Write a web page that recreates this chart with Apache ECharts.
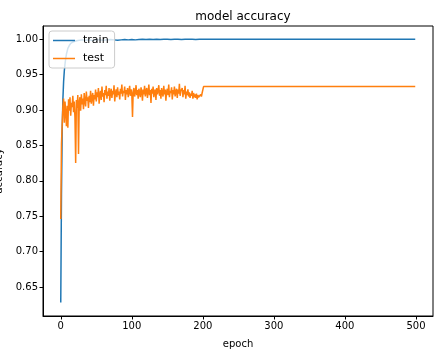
<!DOCTYPE html>
<html>
<head>
    <meta charset="utf-8">
    <title>model accuracy</title>
    <script src="https://cdn.jsdelivr.net/npm/echarts@6/dist/echarts.min.js"></script>
    <style>
        html, body { margin: 0; padding: 0; background: #fff; }
        #chart1 { width: 438px; height: 352px; }
    </style>
</head>
<body>
<div id="chart1"></div>
<script>
    // 横轴刻度与纵轴刻度
    var xTicks = [0, 100, 200, 300, 400, 500];
    var yTicks = [0.65, 0.70, 0.75, 0.80, 0.85, 0.90, 0.95, 1.00];

    // train 曲线：前期每轮，之后每 5 轮，200 轮后保持不变
    var trainEpochs = [0, 1, 2, 3, 4, 5, 6, 7, 8, 9, 10, 11, 12, 13, 14, 15, 17, 20, 24,
        25, 30, 35, 40, 45, 50, 55, 60, 65, 70, 75, 80, 85, 90, 95, 100, 105, 110, 115, 120,
        125, 130, 135, 140, 145, 150, 155, 160, 165, 170, 175, 180, 185, 190, 195, 200, 499];
    var trainAcc = [0.628, 0.780, 0.870, 0.915, 0.940, 0.955, 0.965, 0.973, 0.979, 0.983, 0.987, 0.989, 0.991, 0.993, 0.994, 0.995, 0.996, 0.997, 0.998,
        0.998, 0.999, 0.9985, 0.999, 0.998, 0.9995, 0.999, 0.9985, 0.999, 0.9995, 0.999, 0.9985, 0.999, 0.9995, 0.999, 0.9995, 0.999, 0.9995, 1.000, 0.9995,
        1.000, 0.9995, 1.000, 0.9995, 1.000, 1.000, 0.9995, 1.000, 1.000, 0.9995, 1.000, 1.000, 1.000, 0.9995, 1.000, 1.000, 1.000];

    // test 曲线：0-201 轮每轮一个值，之后保持 0.933 到 499 轮
    var testAcc = [
        0.746, 0.852, 0.880, 0.905, 0.916, 0.882, 0.912, 0.896, 0.877, 0.906,
        0.875, 0.915, 0.899, 0.918, 0.892, 0.910, 0.904, 0.920, 0.897, 0.912,
        0.889, 0.825, 0.914, 0.903, 0.921, 0.838, 0.911, 0.918, 0.899, 0.922,
        0.908, 0.916, 0.901, 0.924, 0.912, 0.905, 0.926, 0.913, 0.918, 0.903,
        0.920, 0.911, 0.927, 0.909, 0.917, 0.924, 0.906, 0.921, 0.915, 0.929,
        0.912, 0.925, 0.918, 0.931, 0.909, 0.922, 0.927, 0.914, 0.933, 0.919,
        0.924, 0.911, 0.928, 0.921, 0.934, 0.916, 0.926, 0.920, 0.931, 0.913,
        0.925, 0.930, 0.917, 0.927, 0.922, 0.935, 0.912, 0.924, 0.929, 0.918,
        0.932, 0.921, 0.926, 0.915, 0.930, 0.923, 0.936, 0.919, 0.927, 0.924,
        0.933, 0.914, 0.928, 0.922, 0.931, 0.918, 0.926, 0.934, 0.920, 0.929,
        0.923, 0.890, 0.927, 0.931, 0.919, 0.925, 0.935, 0.921, 0.928, 0.916,
        0.930, 0.924, 0.918, 0.932, 0.926, 0.913, 0.929, 0.922, 0.934, 0.919,
        0.927, 0.931, 0.917, 0.925, 0.936, 0.921, 0.928, 0.910, 0.930, 0.923,
        0.933, 0.918, 0.926, 0.929, 0.914, 0.931, 0.922, 0.927, 0.935, 0.920,
        0.928, 0.916, 0.931, 0.924, 0.919, 0.934, 0.922, 0.929, 0.913, 0.926,
        0.930, 0.921, 0.936, 0.918, 0.927, 0.924, 0.932, 0.915, 0.928, 0.922,
        0.933, 0.919, 0.926, 0.930, 0.917, 0.929, 0.923, 0.937, 0.920, 0.927,
        0.925, 0.931, 0.918, 0.928, 0.922, 0.934, 0.916, 0.926, 0.921, 0.929,
        0.919, 0.925, 0.917, 0.923, 0.920, 0.927, 0.916, 0.924, 0.918, 0.922,
        0.917, 0.923, 0.915, 0.921, 0.918, 0.920, 0.916, 0.922, 0.919, 0.924,
        0.925, 0.933
    ];
    var testFinal = 0.933;
    var lastEpoch = 499;

    var trainData = trainEpochs.map(function (e, i) { return [e, trainAcc[i]]; });
    var testData = testAcc.map(function (v, i) { return [i, v]; });
    testData.push([lastEpoch, testFinal]);

    var font = 'DejaVu Sans';
    var myChart1 = echarts.init(document.getElementById('chart1'));
    myChart1.setOption({
        animation: false,
        textStyle: { fontFamily: font },
        title: {
            text: 'model accuracy',
            left: 238,
            top: 6,
            textAlign: 'center',
            textStyle: { fontFamily: font, fontSize: 12, fontWeight: 'normal', color: '#000' }
        },
        legend: {
            data: ['train', 'test'],
            orient: 'vertical',
            left: 49,
            top: 31,
            z: 10,
            icon: 'rect',
            itemWidth: 22,
            itemHeight: 1.5,
            itemGap: 7,
            padding: [4, 6, 4, 4],
            backgroundColor: 'rgba(255,255,255,0.8)',
            borderColor: '#cccccc',
            borderWidth: 1,
            borderRadius: 3,
            textStyle: { fontFamily: font, fontSize: 11, color: '#000', padding: [0, 0, 0, 3] }
        },
        grid: {
            left: 43, right: 5, top: 26, bottom: 36,
            containLabel: false,
            outerBoundsMode: 'none',
            show: true, borderColor: '#000', borderWidth: 1
        },
        xAxis: {
            type: 'value',
            min: -25,
            max: 524,
            name: 'epoch',
            nameLocation: 'middle',
            nameGap: 23,
            nameTextStyle: { fontFamily: font, fontSize: 10, color: '#000' },
            axisLine: { show: true, onZero: false, lineStyle: { color: '#000', width: 1 } },
            axisTick: { show: true, length: 3.5, customValues: xTicks, lineStyle: { color: '#000' } },
            axisLabel: { customValues: xTicks, fontFamily: font, fontSize: 10, color: '#000', margin: 5 },
            splitLine: { show: false }
        },
        yAxis: {
            type: 'value',
            min: 0.609,
            max: 1.0186,
            name: 'accuracy',
            nameLocation: 'middle',
            nameGap: 35,
            nameTextStyle: { fontFamily: font, fontSize: 10, color: '#000' },
            axisLine: { show: true, onZero: false, lineStyle: { color: '#000', width: 1 } },
            axisTick: { show: true, length: 3.5, customValues: yTicks, lineStyle: { color: '#000' } },
            axisLabel: {
                customValues: yTicks, fontFamily: font, fontSize: 10, color: '#000', margin: 5,
                formatter: function (v) { return v.toFixed(2); }
            },
            splitLine: { show: false }
        },
        series: [
            {
                name: 'train',
                type: 'line',
                data: trainData,
                showSymbol: false,
                symbol: 'none',
                color: '#1f77b4',
                lineStyle: { width: 1.5, color: '#1f77b4' }
            },
            {
                name: 'test',
                type: 'line',
                data: testData,
                showSymbol: false,
                symbol: 'none',
                color: '#ff7f0e',
                lineStyle: { width: 1.5, color: '#ff7f0e' }
            }
        ]
    });
</script>
</body>
</html>
